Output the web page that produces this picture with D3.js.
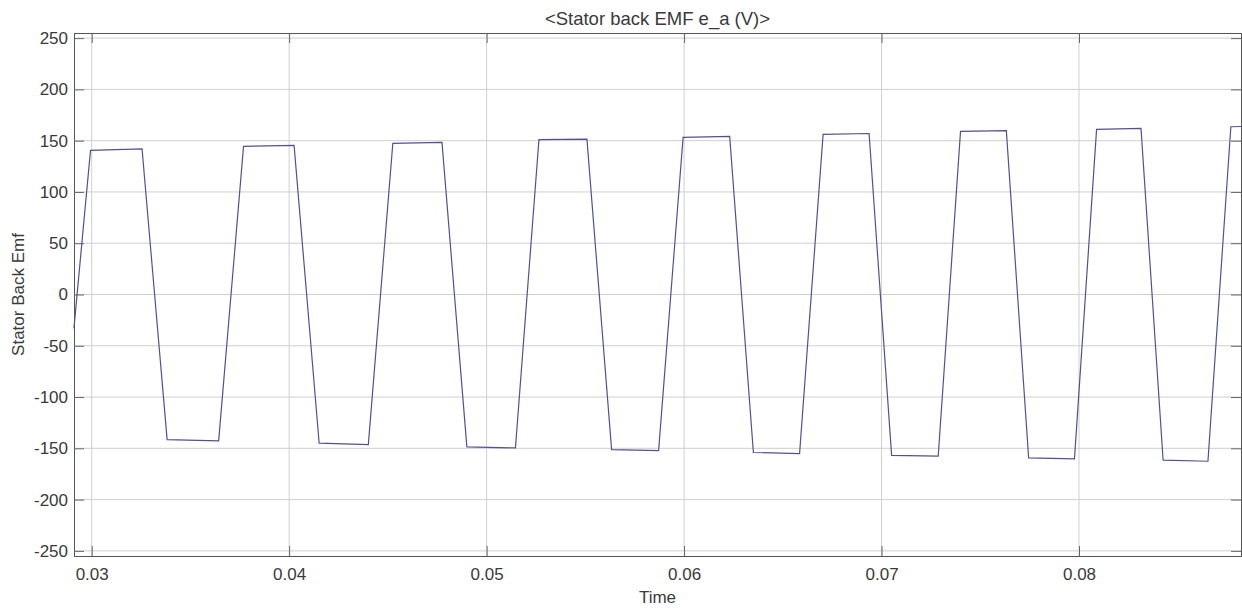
<!DOCTYPE html>
<html>
<head>
    <meta charset="UTF-8">
    <script src="https://d3js.org/d3.v7.min.js"></script>
    <style>
        body {
            margin: 0;
            background-color: #ffffff;
        }

        text {
            font-family: 'Liberation Sans', Arial, sans-serif;
            fill: #3a3a3a;
        }
    </style>
</head>
<body>
    <svg id="chart" width="1242" height="610"></svg>
    <script>
        // waveform corner points
        var timeVals = [
            0.02910, 0.02994, 0.03255, 0.03382, 0.03643,
            0.03769, 0.04025, 0.04152, 0.04401,
            0.04525, 0.04774, 0.04900, 0.05146,
            0.05265, 0.05508, 0.05633, 0.05871,
            0.05995, 0.06231, 0.06351, 0.06585,
            0.06704, 0.06937, 0.07051, 0.07287,
            0.07400, 0.07632, 0.07745, 0.07977,
            0.08089, 0.08314, 0.08426, 0.08653,
            0.08769, 0.08820
        ];
        var emfVals = [
            -33, 140.5, 142.1, -141.5, -142.7,
            144.4, 145.4, -145.0, -146.3,
            147.3, 148.3, -148.6, -149.6,
            151.0, 151.5, -151.2, -152.2,
            153.2, 154.1, -154.1, -155.1,
            156.1, 157.0, -156.8, -157.7,
            159.0, 159.7, -159.4, -160.3,
            161.0, 162.0, -161.6, -162.6,
            163.6, 163.8
        ];
        var xTicks = [0.03, 0.04, 0.05, 0.06, 0.07, 0.08];
        var yTicks = [-250, -200, -150, -100, -50, 0, 50, 100, 150, 200, 250];

        var plotLeft = 74, plotRight = 1241, plotTop = 33, plotBottom = 556;

        var svg = d3.select("#chart");

        var x = d3.scaleLinear().domain([0.029104, 0.088204]).range([plotLeft, plotRight]);
        var y = d3.scaleLinear().domain([-255, 255]).range([plotBottom, plotTop]);

        // grid
        svg.append("g")
            .selectAll("line")
            .data(xTicks)
            .enter()
            .append("line")
            .attr("x1", function (d) { return x(d); })
            .attr("x2", function (d) { return x(d); })
            .attr("y1", plotTop)
            .attr("y2", plotBottom)
            .attr("stroke", "#cfcfcf")
            .attr("stroke-width", 1);

        svg.append("g")
            .selectAll("line")
            .data(yTicks)
            .enter()
            .append("line")
            .attr("x1", plotLeft)
            .attr("x2", plotRight)
            .attr("y1", function (d) { return y(d); })
            .attr("y2", function (d) { return y(d); })
            .attr("stroke", "#cfcfcf")
            .attr("stroke-width", 1);

        // axes with inward ticks
        var xAxis = d3.axisBottom(x).tickValues(xTicks).tickSize(-10).tickPadding(12)
            .tickFormat(d3.format(".2f"));
        var yAxis = d3.axisLeft(y).tickValues(yTicks).tickSize(-10).tickPadding(6)
            .tickFormat(function (d) { return d; });

        svg.append("g")
            .attr("transform", "translate(0," + plotBottom + ")")
            .call(xAxis)
            .call(function (g) {
                g.selectAll("text").style("font-size", "17px").attr("fill", "#3a3a3a");
            });

        svg.append("g")
            .attr("transform", "translate(" + plotLeft + ",0)")
            .call(yAxis)
            .call(function (g) {
                g.selectAll("text").style("font-size", "17px").attr("fill", "#3a3a3a");
            });

        svg.append("g")
            .attr("transform", "translate(0," + plotTop + ")")
            .call(d3.axisTop(x).tickValues(xTicks).tickSize(-10).tickFormat(""));

        svg.append("g")
            .attr("transform", "translate(" + plotRight + ",0)")
            .call(d3.axisRight(y).tickValues(yTicks).tickSize(-10).tickFormat(""));

        svg.selectAll(".domain").attr("stroke", "#555555");
        svg.selectAll(".tick line").attr("stroke", "#666666");

        // signal
        var points = timeVals.map(function (t, i) { return [t, emfVals[i]]; });
        var line = d3.line()
            .x(function (d) { return x(d[0]); })
            .y(function (d) { return y(d[1]); });

        svg.append("path")
            .datum(points)
            .attr("d", line)
            .attr("fill", "none")
            .attr("stroke", "#515190")
            .attr("stroke-width", 1.2);

        // labels
        svg.append("text")
            .attr("x", (plotLeft + plotRight) / 2)
            .attr("y", 25)
            .attr("text-anchor", "middle")
            .style("font-size", "18.5px")
            .text("<Stator back EMF e_a (V)>");

        svg.append("text")
            .attr("x", (plotLeft + plotRight) / 2)
            .attr("y", 603)
            .attr("text-anchor", "middle")
            .style("font-size", "17px")
            .text("Time");

        svg.append("text")
            .attr("transform", "translate(24," + (plotTop + plotBottom) / 2 + ") rotate(-90)")
            .attr("text-anchor", "middle")
            .style("font-size", "17px")
            .text("Stator Back Emf");
    </script>
</body>
</html>
